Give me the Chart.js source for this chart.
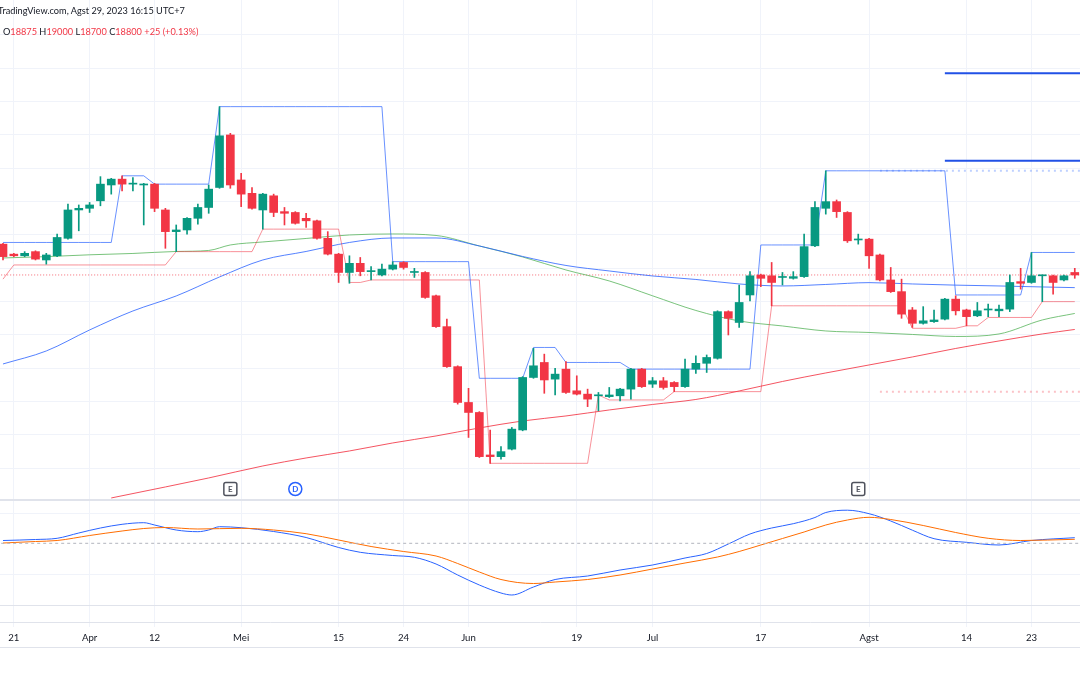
<!DOCTYPE html>
<html>
<head>
<meta charset="utf-8">
<script src="https://cdn.jsdelivr.net/npm/chart.js@4.4.0/dist/chart.umd.min.js"></script>
<style>
  html, body { margin: 0; padding: 0; background: #fff; }
  #wrap { position: relative; width: 1080px; height: 675px; overflow: hidden; font-family: Lato, Roboto, sans-serif; }
  canvas { position: absolute; left: 0; }
  #priceCanvas { top: 0; }
  #macdCanvas { top: 499px; }
  .hdr { position: absolute; white-space: nowrap; font-size: 9.2px; color: #131722; }
  #hdr1 { left: -2px; top: 5px; }
  #hdr2 { left: 3px; top: 26px; }
  .dn { color: #F23645; }
</style>
</head>
<body>
<div id="wrap">
  <canvas id="priceCanvas" width="1080" height="499"></canvas>
  <canvas id="macdCanvas" width="1080" height="149"></canvas>
  <div class="hdr" id="hdr1">TradingView.com, Agst 29, 2023 16:15 UTC+7</div>
  <div class="hdr" id="hdr2"></div>
</div>
<script>
// trading days shown (Mar 20 .. Aug 29, 2023)
const days = [
  '03-20','03-21','03-24','03-27','03-28','03-29','03-30','03-31','04-03','04-04',
  '04-05','04-06','04-10','04-11','04-12','04-13','04-14','04-17','04-18','04-26',
  '04-27','04-28','05-02','05-03','05-04','05-05','05-08','05-09','05-10','05-11',
  '05-12','05-15','05-16','05-17','05-19','05-22','05-23','05-24','05-25','05-26',
  '05-29','05-30','05-31','06-05','06-06','06-07','06-08','06-09','06-12','06-13',
  '06-14','06-15','06-16','06-19','06-20','06-21','06-22','06-23','06-26','06-27',
  '07-03','07-04','07-05','07-06','07-07','07-10','07-11','07-12','07-13','07-14',
  '07-17','07-18','07-20','07-21','07-24','07-25','07-26','07-27','07-28','07-31',
  '08-01','08-02','08-03','08-04','08-07','08-08','08-09','08-10','08-11','08-14',
  '08-15','08-16','08-18','08-21','08-22','08-23','08-24','08-25','08-28','08-29'
];

// time axis labels (position in days[])
const tickIdx  = [1, 8, 14, 22, 31, 37, 43, 53, 60, 70, 80, 89, 95];
const tickText = ['21', 'Apr', '12', 'Mei', '15', '24', 'Jun', '19', 'Jul', '17', 'Agst', '14', '23'];

const open = [
  19725, 19425, 19375, 19500, 19250, 19375, 19900, 20750, 20800, 21025,
  21500, 21675, 21525, 21500, 21525, 20750, 20100, 20150, 20500, 20825,
  21425, 23000, 21650, 21250, 20750, 21175, 20700, 20675, 20500, 20425,
  19900, 19425, 18875, 19150, 18900, 18800, 18975, 19175, 18875, 18875,
  18175, 17250, 16050, 14975, 14675, 13400, 13350, 13575, 14150, 15725,
  16175, 15675, 15975, 15325, 15225, 15175, 15150, 15175, 15375, 15975,
  15525, 15625, 15575, 15450, 15975, 16150, 16300, 17700, 17375, 18200,
  18800, 18775, 18725, 18700, 18750, 19675, 20800, 21000, 20675, 19850,
  19875, 19400, 18650, 18300, 17750, 17350, 17400, 17475, 18075, 17750,
  17575, 17750, 17725, 17775, 18600, 18575, 18775, 18775, 18650, 18875
];
const high = [
  19750, 19450, 19500, 19525, 19450, 20025, 20925, 20900, 20975, 21750,
  21700, 21775, 21725, 21550, 21550, 20800, 20300, 20525, 20925, 21500,
  23850, 23050, 21850, 21425, 21250, 21225, 20825, 20700, 20650, 20450,
  20100, 19450, 19375, 19325, 19050, 19125, 19200, 19200, 19000, 18900,
  18200, 17475, 16075, 15400, 14700, 14150, 13650, 14225, 15750, 16600,
  16425, 16000, 16200, 15775, 15375, 15275, 15425, 15400, 16000, 16000,
  15725, 15725, 15600, 16275, 16375, 16400, 17725, 17725, 18500, 18900,
  18825, 19175, 18875, 18900, 20025, 21000, 21925, 21050, 20700, 20025,
  19900, 19425, 19025, 18675, 17825, 17850, 17750, 18100, 18175, 17775,
  17975, 17925, 17900, 18800, 19000, 19475, 18800, 18800, 18800, 19000
];
const low = [
  19250, 19350, 19350, 19250, 19125, 19350, 19875, 20125, 20675, 20875,
  21225, 21325, 21325, 20300, 20700, 19600, 19500, 20025, 20325, 20650,
  21400, 21400, 20850, 20775, 20175, 20550, 20300, 20325, 20225, 19875,
  19400, 18575, 18550, 18775, 18650, 18775, 18950, 18975, 18725, 18100,
  17225, 16025, 14925, 13925, 13325, 13150, 13275, 13550, 14125, 15700,
  15250, 15200, 15250, 15200, 14850, 14725, 15125, 15025, 15075, 15425,
  15425, 15375, 15300, 15425, 15850, 15875, 16275, 17000, 17225, 18025,
  18450, 17875, 18500, 18675, 18725, 19650, 20625, 20525, 19775, 19725,
  19000, 18625, 18275, 17500, 17225, 17325, 17375, 17450, 17600, 17275,
  17550, 17550, 17550, 17700, 18375, 18550, 18000, 18225, 18625, 18700
];
const close = [
  19350, 19375, 19450, 19275, 19400, 19925, 20750, 20800, 20900, 21525,
  21675, 21525, 21525, 21525, 20800, 20100, 20150, 20500, 20825, 21375,
  22975, 21500, 21225, 20800, 21225, 20675, 20650, 20350, 20425, 19900,
  19425, 18875, 19150, 18900, 18900, 18975, 19100, 19025, 18875, 18125,
  17250, 16050, 14975, 14675, 13350, 13350, 13500, 14175, 15725, 16075,
  15650, 15825, 15275, 15225, 15075, 15175, 15200, 15375, 15975, 15450,
  15625, 15425, 15450, 15975, 16150, 16325, 17700, 17500, 17975, 18775,
  18700, 18575, 18725, 18750, 19650, 20825, 21000, 20700, 19825, 19850,
  19375, 18650, 18300, 17625, 17350, 17425, 17450, 18075, 17725, 17550,
  17725, 17750, 17775, 18575, 18550, 18775, 18775, 18575, 18775, 18800
];

// step channel
const upperBand = [
  19775, 19775, 19775, 19775, 19775, 19775, 19775, 19775, 19775, 19775,
  19775, 21775, 21775, 21775, 21525, 21525, 21525, 21525, 21525, 21525,
  23850, 23850, 23850, 23850, 23850, 23850, 23850, 23850, 23850, 23850,
  23850, 23850, 23850, 23850, 23850, 23850, 19200, 19200, 19200, 19200,
  19200, 19200, 19200, 19200, 15700, 15700, 15700, 15700, 15700, 16625,
  16625, 16625, 16175, 16175, 16175, 16175, 16175, 16175, 15975, 15975,
  15975, 15975, 15975, 15975, 15975, 15975, 15975, 15975, 15975, 15975,
  19700, 19700, 19700, 19700, 19700, 19700, 21925, 21925, 21925, 21925,
  21925, 21925, 21925, 21925, 21925, 21925, 21925, 21925, 18200, 18200,
  18200, 18200, 18200, 18200, 18200, 19475, 19475, 19475, 19475, 19475
];
const lowerBand = [
  18675, 19100, 19100, 19100, 19100, 19100, 19100, 19100, 19100, 19100,
  19100, 19100, 19100, 19100, 19100, 19100, 19500, 19500, 19500, 19500,
  19500, 19500, 19500, 19500, 20175, 20175, 20175, 20175, 20175, 20175,
  20175, 20175, 18575, 18575, 18650, 18650, 18650, 18650, 18650, 18650,
  18650, 18650, 18650, 18650, 18650, 13150, 13150, 13150, 13150, 13150,
  13150, 13150, 13150, 13150, 13150, 15200, 15050, 15050, 15050, 15050,
  15050, 15050, 15300, 15300, 15300, 15300, 15300, 15300, 15300, 15300,
  15300, 17875, 17875, 17875, 17875, 17875, 17875, 17875, 17875, 17875,
  17875, 17875, 17875, 17875, 17200, 17200, 17200, 17200, 17200, 17275,
  17275, 17525, 17525, 17525, 17525, 17525, 18000, 18000, 18000, 18000
];

// moving averages, read at selected days
const maBlueIdx = [0, 4, 8, 12, 16, 20, 24, 28, 32, 36, 40, 44, 48, 52, 56, 60, 64, 68, 72, 76, 80, 84, 88, 92, 96, 99];
const maBlue = [16130, 16520, 17150, 17720, 18170, 18740, 19250, 19505, 19775, 19910, 19910, 19670, 19355,
                19085, 18920, 18770, 18665, 18530, 18470, 18515, 18570, 18530, 18495, 18470, 18440, 18420];
const maGreenIdx = [0, 4, 8, 12, 16, 19, 21, 24, 28, 32, 36, 40, 44, 48, 52, 56, 60, 64, 68, 72, 76, 80, 84, 88, 92, 96, 99];
const maGreen = [19310, 19350, 19405, 19445, 19505, 19535, 19700, 19790, 19895, 20000, 20030, 19985, 19670, 19340,
                 18950, 18620, 18175, 17735, 17420, 17270, 17120, 17075, 17015, 16955, 17030, 17450, 17645];
const maRedIdx = [10, 15, 19, 24, 28, 32, 36, 40, 44, 48, 52, 56, 60, 64, 68, 72, 76, 80, 84, 88, 92, 96, 99];
const maRed = [12110, 12440, 12710, 13070, 13310, 13520, 13760, 13970, 14210, 14420, 14570, 14750,
               14915, 15065, 15320, 15605, 15860, 16100, 16340, 16595, 16820, 17030, 17165];

// oscillator pane
const macdIdx = [0, 3, 5, 7, 9, 11, 13, 14, 16, 18, 19, 20, 22, 25, 28, 31, 33, 36, 38, 40, 42, 44, 46,
                 47, 49, 51, 54, 57, 60, 63, 65, 67, 69, 71, 73, 75, 76, 78, 80, 82, 84, 86, 89, 92, 95, 99];
const macd = [28, 38, 50, 103, 153, 190, 206, 183, 133, 116, 133, 166, 156, 118, 58, -42, -90, -122, -140, -207, -317, -417, -497,
              -517, -437, -362, -327, -267, -217, -147, -102, -7, 93, 153, 196, 258, 308, 331, 296, 223, 131, 46, 10, -17, 28, 56];
const signalIdx = [0, 3, 5, 8, 11, 13, 15, 18, 22, 25, 28, 31, 34, 37, 40, 42, 44, 46, 49, 51, 54, 57, 60, 63, 66,
                   68, 70, 72, 74, 76, 78, 80, 82, 85, 88, 91, 94, 99];
const signal = [3, 18, 28, 78, 123, 148, 158, 143, 150, 133, 96, 33, -32, -82, -127, -202, -287, -362, -402, -387, -362, -317, -257, -197, -137,
                -82, -17, 48, 113, 183, 233, 260, 238, 178, 108, 50, 28, 40];

// horizontal levels at right
const solidLevels = [24850, 22225];
const solidFrom = 87;
const dottedLevels = [21925, 15300];
const dottedFrom = 81;

const priceGrid = [13000, 14000, 15000, 16000, 17000, 18000, 19000, 20000, 21000, 22000, 23000, 24000, 25000, 26000];
const oscGrid = [300, -315, -617];

const eventIdx = [21, 27, 79];
const eventType = ['E', 'D', 'E'];

const UP = '#089981', DOWN = '#F23645';
const X_MIN = -0.277, X_MAX = 99.483;
const last = close.length - 1;

// header legend
const chg = close[last] - close[last - 1];
const pct = (chg / close[last - 1] * 100).toFixed(2);
const sgn = chg >= 0 ? '+' : '';
document.getElementById('hdr2').innerHTML =
  'O<span class="dn">' + open[last] + '</span> H<span class="dn">' + high[last] +
  '</span> L<span class="dn">' + low[last] + '</span> C<span class="dn">' + close[last] +
  '</span> <span class="dn">' + sgn + chg + ' (' + sgn + pct + '%)</span>';

Chart.defaults.font.family = 'Lato';

const candleColor = days.map((d, k) => close[k] >= open[k] ? UP : DOWN);
const pts = (idx, vals) => idx.map((k, j) => ({ x: k, y: vals[j] }));
const series = vals => vals.map((v, k) => ({ x: k, y: v }));
const flat = (from, v) => [{ x: from, y: v }, { x: X_MAX + 1, y: v }];

const xAxis = (labels) => ({
  type: 'linear', min: X_MIN, max: X_MAX, offset: false,
  afterBuildTicks: ax => { ax.ticks = tickIdx.map(v => ({ value: v })); },
  afterFit: ax => { ax.height = labels ? 26 : 0; },
  grid: { color: '#F0F3FA', offset: false, drawTicks: labels, tickLength: 5 },
  border: { display: labels, color: '#E0E3EB' },
  ticks: {
    display: labels, autoSkip: false, maxRotation: 0, padding: 5,
    color: '#131722', font: { size: 9.6 },
    callback: (v, i) => tickText[i]
  }
});

const badges = {
  id: 'badges',
  afterDatasetsDraw(chart) {
    const { ctx, chartArea } = chart;
    const x = chart.scales.x;
    const yc = chartArea.bottom - 10;
    eventIdx.forEach((k, j) => {
      const xc = x.getPixelForValue(k);
      const col = eventType[j] === 'D' ? '#2962FF' : '#50535E';
      ctx.save();
      ctx.lineWidth = 1.5;
      ctx.strokeStyle = col;
      ctx.fillStyle = '#fff';
      ctx.beginPath();
      if (eventType[j] === 'D') ctx.arc(xc, yc, 6.5, 0, Math.PI * 2);
      else ctx.roundRect(xc - 6.5, yc - 6.5, 13, 13, 2);
      ctx.fill();
      ctx.stroke();
      ctx.fillStyle = col;
      ctx.font = 'bold 8px Lato';
      ctx.textAlign = 'center';
      ctx.textBaseline = 'middle';
      ctx.fillText(eventType[j], xc, yc + 0.5);
      ctx.restore();
    });
  }
};

new Chart(document.getElementById('priceCanvas'), {
  type: 'line',
  data: {
    datasets: [
      { type: 'bar', order: 0, grouped: false, barThickness: 1,
        data: days.map((d, k) => ({ x: k, y: [low[k], high[k]] })),
        backgroundColor: candleColor },
      { type: 'bar', order: 0, grouped: false, barThickness: 8, minBarLength: 1,
        data: days.map((d, k) => ({ x: k, y: [open[k], close[k]] })),
        backgroundColor: candleColor },
      { order: 1, data: series(upperBand), borderColor: 'rgba(41,98,255,0.7)', borderWidth: 1, pointRadius: 0 },
      { order: 1, data: series(lowerBand), borderColor: 'rgba(242,54,69,0.55)', borderWidth: 1, pointRadius: 0 },
      { order: 1, data: pts(maBlueIdx, maBlue), borderColor: 'rgba(41,98,255,0.8)', borderWidth: 1, pointRadius: 0, cubicInterpolationMode: 'monotone' },
      { order: 1, data: pts(maGreenIdx, maGreen), borderColor: 'rgba(76,175,80,0.75)', borderWidth: 1, pointRadius: 0, cubicInterpolationMode: 'monotone' },
      { order: 1, data: pts(maRedIdx, maRed), borderColor: 'rgba(242,54,69,0.85)', borderWidth: 1, pointRadius: 0, cubicInterpolationMode: 'monotone' },
      { order: 1, data: flat(X_MIN - 1, close[last]), borderColor: 'rgba(242,54,69,0.75)', borderWidth: 1, borderDash: [1, 2], pointRadius: 0 },
      { order: 1, data: flat(solidFrom, solidLevels[0]), borderColor: '#2151E6', borderWidth: 2, pointRadius: 0 },
      { order: 1, data: flat(solidFrom, solidLevels[1]), borderColor: '#2151E6', borderWidth: 2, pointRadius: 0 },
      { order: 1, data: flat(dottedFrom, dottedLevels[0]), borderColor: 'rgba(41,98,255,0.3)', borderWidth: 2, borderDash: [2, 4], pointRadius: 0 },
      { order: 1, data: flat(dottedFrom, dottedLevels[1]), borderColor: 'rgba(242,54,69,0.3)', borderWidth: 2, borderDash: [2, 4], pointRadius: 0 }
    ]
  },
  options: {
    responsive: false, animation: false, events: [],
    layout: { padding: 0 },
    plugins: { legend: { display: false }, tooltip: { enabled: false } },
    scales: {
      x: xAxis(false),
      y: {
        type: 'linear', position: 'right', min: 12079, max: 27049,
        afterBuildTicks: ax => { ax.ticks = priceGrid.map(v => ({ value: v })); },
        afterFit: ax => { ax.width = 0; },
        grid: { color: '#F0F3FA', drawTicks: false },
        border: { display: false },
        ticks: { display: false }
      }
    }
  },
  plugins: [badges]
});

const paneLines = {
  id: 'paneLines',
  afterDraw(chart) {
    const { ctx, width, height } = chart;
    ctx.save();
    ctx.strokeStyle = '#E0E3EB';
    ctx.lineWidth = 2;
    ctx.beginPath();
    ctx.moveTo(0, 1); ctx.lineTo(width, 1);
    ctx.stroke();
    ctx.lineWidth = 1;
    ctx.beginPath();
    ctx.moveTo(0, height - 0.5); ctx.lineTo(width, height - 0.5);
    ctx.stroke();
    ctx.restore();
  }
};

new Chart(document.getElementById('macdCanvas'), {
  type: 'line',
  data: {
    datasets: [
      { data: flat(X_MIN - 1, 0), borderColor: '#B2B5BE', borderWidth: 1, borderDash: [3, 3], pointRadius: 0 },
      { data: pts(signalIdx, signal), borderColor: '#FF6D00', borderWidth: 1, pointRadius: 0, cubicInterpolationMode: 'monotone' },
      { data: pts(macdIdx, macd), borderColor: '#2962FF', borderWidth: 1, pointRadius: 0, cubicInterpolationMode: 'monotone' }
    ]
  },
  options: {
    responsive: false, animation: false, events: [],
    layout: { padding: 0 },
    plugins: { legend: { display: false }, tooltip: { enabled: false } },
    scales: {
      x: xAxis(true),
      y: {
        type: 'linear', position: 'right', min: -787, max: 443,
        afterBuildTicks: ax => { ax.ticks = oscGrid.map(v => ({ value: v })); },
        afterFit: ax => { ax.width = 0; },
        grid: { color: c => c.tick && c.tick.value === -617 ? '#E0E3EB' : '#F0F3FA', drawTicks: false },
        border: { display: false },
        ticks: { display: false }
      }
    }
  },
  plugins: [paneLines]
});
</script>
</body>
</html>
